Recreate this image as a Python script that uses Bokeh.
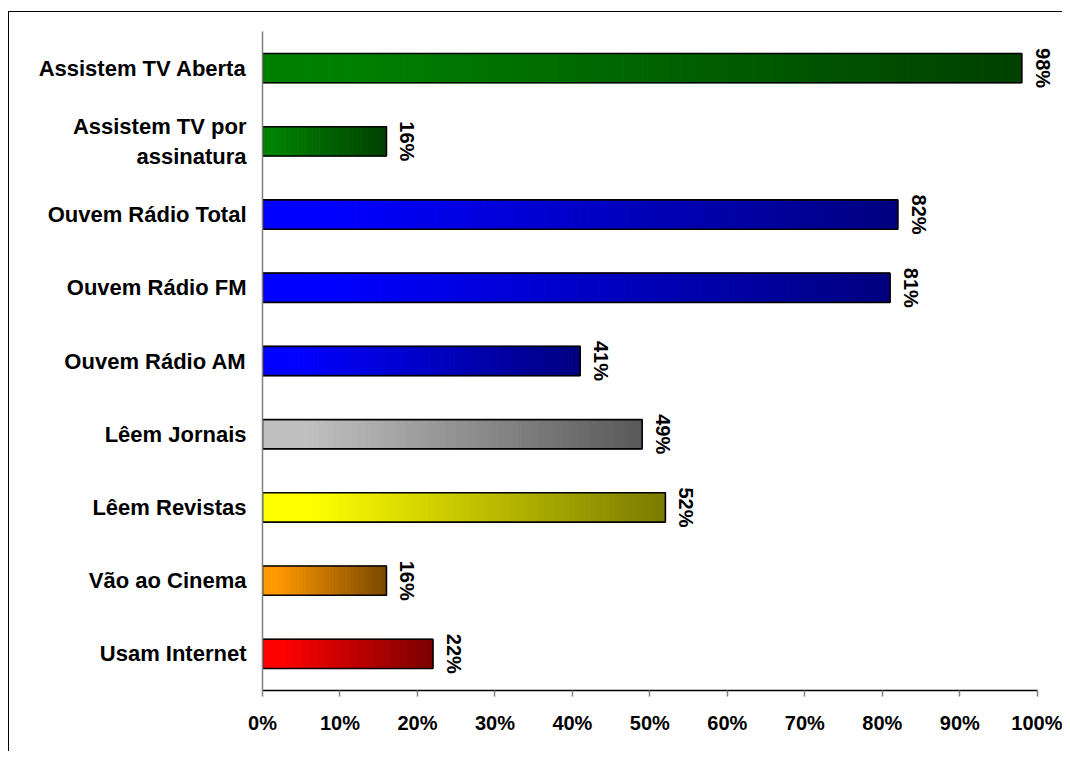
import math
from bokeh.plotting import figure
from bokeh.models import ColumnDataSource, FactorRange, Range1d, FixedTicker
from bokeh.core.properties import value
from bokeh.embed import file_html
from bokeh.resources import INLINE

# ---- data ----
categories = [
    "Assistem TV Aberta",
    "Assistem TV por\nassinatura",
    "Ouvem Rádio Total",
    "Ouvem Rádio FM",
    "Ouvem Rádio AM",
    "Lêem Jornais",
    "Lêem Revistas",
    "Vão ao Cinema",
    "Usam Internet",
]
values = [98, 16, 82, 81, 41, 49, 52, 16, 22]
value_labels = ["98%", "16%", "82%", "81%", "41%", "49%", "52%", "16%", "22%"]
start_colors = [(0, 128, 0), (0, 128, 0), (0, 0, 255), (0, 0, 255), (0, 0, 255),
                (192, 192, 192), (255, 255, 0), (255, 153, 0), (255, 0, 0)]
end_colors = [(0, 64, 0), (0, 64, 0), (0, 0, 128), (0, 0, 128), (0, 0, 128),
              (89, 89, 89), (122, 122, 0), (122, 72, 0), (122, 0, 0)]
x_ticks = [0, 10, 20, 30, 40, 50, 60, 70, 80, 90, 100]
x_tick_labels = ["0%", "10%", "20%", "30%", "40%", "50%", "60%", "70%", "80%", "90%", "100%"]

FONT = "Liberation Sans"

# frame extends a little past 100% so the rotated value label of the longest bar is not clipped;
# the axis itself is bounded to 0..100
p = figure(
    width=1054, height=740,
    x_range=Range1d(0, 103),
    y_range=FactorRange(factors=list(reversed(categories))),
    output_backend="svg", toolbar_location=None,
    min_border_left=253, min_border_right=3, min_border_top=19, min_border_bottom=62,
)
p.styles = {"border-top": "1px solid black", "border-left": "1px solid black",
            "margin-top": "11px", "margin-left": "8px"}
p.outline_line_color = None
p.xgrid.visible = False
p.ygrid.visible = False
p.background_fill_color = "white"
p.border_fill_color = "white"

# ---- gradient bars (slices) ----
N = 80
ys, lefts, rights, cols = [], [], [], []
for cat, v, c0, c1 in zip(categories, values, start_colors, end_colors):
    for i in range(N):
        t = (i + 0.5) / N
        f = max(0.0, (t - 0.12) / 0.88)
        r = round(c0[0] + (c1[0] - c0[0]) * f)
        g = round(c0[1] + (c1[1] - c0[1]) * f)
        b = round(c0[2] + (c1[2] - c0[2]) * f)
        ys.append(cat)
        lefts.append(v * i / N)
        rights.append(v * (i + 1) / N)
        cols.append("#%02x%02x%02x" % (r, g, b))

src = ColumnDataSource(dict(y=ys, left=lefts, right=rights, color=cols))
p.hbar(y="y", left="left", right="right", height=0.4, fill_color="color",
       line_color="color", line_width=1, source=src)
p.hbar(y=categories, left=0, right=values, height=0.4, fill_color=None,
       line_color="black", line_width=1.6)

# ---- value labels (rotated, reading downward) ----
p.text(x=values, y=categories, text=value_labels, angle=-math.pi / 2,
       text_align="center", text_baseline="middle", x_offset=21, y_offset=0,
       text_font=value(FONT), text_font_style="bold", text_font_size="20px",
       text_color="black")

# ---- axes ----
xa = p.xaxis[0]
xa.bounds = (0, 100)
xa.ticker = FixedTicker(ticks=x_ticks)
xa.major_label_overrides = {t: l for t, l in zip(x_ticks, x_tick_labels)}
xa.axis_line_color = "black"
xa.axis_line_width = 1.5
xa.major_tick_line_color = "#808080"
xa.major_tick_line_width = 1.5
xa.major_tick_in = 0
xa.major_tick_out = 6
xa.minor_tick_line_color = None
xa.major_label_text_font = FONT
xa.major_label_text_font_style = "bold"
xa.major_label_text_font_size = "20px"
xa.major_label_text_color = "black"
xa.major_label_standoff = 15

ya = p.yaxis[0]
ya.axis_line_color = "#808080"
ya.axis_line_width = 1.5
ya.major_tick_line_color = None
ya.minor_tick_line_color = None
ya.major_label_text_font = FONT
ya.major_label_text_font_style = "bold"
ya.major_label_text_font_size = "22px"
ya.major_label_text_color = "black"
ya.major_label_standoff = 10

open("out.html", "w").write(file_html(p, INLINE))
